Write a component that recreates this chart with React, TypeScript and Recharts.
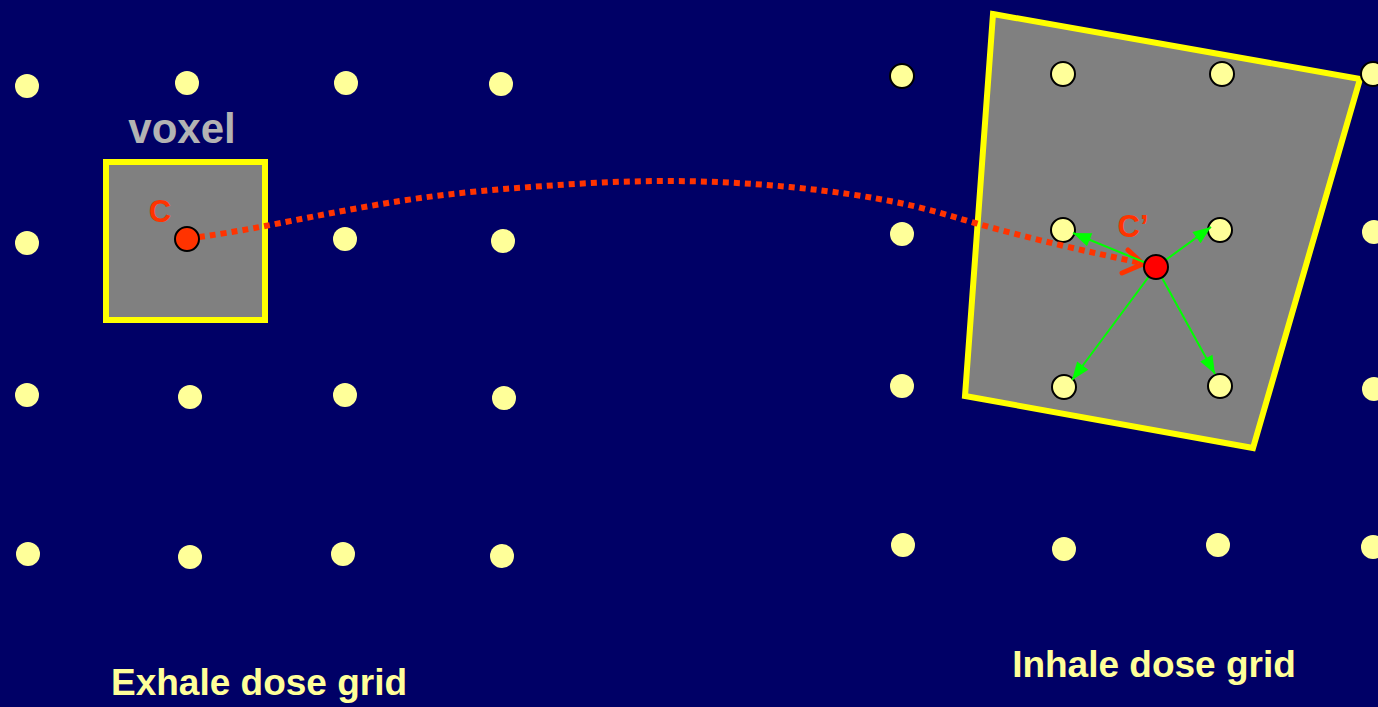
import React from 'react';
import { ComposedChart, Scatter, XAxis, YAxis, ReferenceArea } from 'recharts';

const W = 1378;
const H = 707;

// grid points (pixel space, y down)
const exhaleDots = [
  { x: 27, y: 86 }, { x: 187, y: 83 }, { x: 346, y: 83 }, { x: 501, y: 84 },
  { x: 27, y: 243 }, { x: 345, y: 239 }, { x: 503, y: 241 },
  { x: 27, y: 395 }, { x: 190, y: 397 }, { x: 345, y: 395 }, { x: 504, y: 398 },
  { x: 28, y: 554 }, { x: 190, y: 557 }, { x: 343, y: 554 }, { x: 502, y: 556 },
];

const inhaleDots = [
  { x: 902, y: 234 }, { x: 902, y: 386 }, { x: 903, y: 545 }, { x: 1064, y: 549 },
  { x: 1218, y: 545 }, { x: 1373, y: 547 }, { x: 1374, y: 232 }, { x: 1374, y: 389 },
];

const outlinedDots = [
  { x: 902, y: 76 }, { x: 1063, y: 74 }, { x: 1222, y: 74 }, { x: 1373, y: 74 },
  { x: 1063, y: 230 }, { x: 1220, y: 230 }, { x: 1064, y: 387 }, { x: 1220, y: 386 },
];

const pointC = [{ x: 187, y: 239 }];
const pointCPrime = [{ x: 1156, y: 267 }];

const voxelBox = { x1: 106, x2: 265, y1: 162, y2: 320 };

// last vertex repeated past the start so the closing corner gets a proper miter
const warpedVoxel = [
  { x: 993, y: 14 }, { x: 1360, y: 79 }, { x: 1253, y: 448 }, { x: 965, y: 396 },
  { x: 993, y: 14 }, { x: 1360, y: 79 },
];

const motionPath = [
  { x: 199, y: 237 }, { x: 265, y: 226 }, { x: 400, y: 201 }, { x: 530, y: 187 },
  { x: 660, y: 181 }, { x: 790, y: 187 }, { x: 900, y: 203 }, { x: 975, y: 223 },
  { x: 1060, y: 245 }, { x: 1141, y: 263 },
];

const motionHead = [{ x: 1128, y: 250 }, { x: 1143, y: 264 }, { x: 1122, y: 273 }];

const arrowTips = [
  { x: 1073, y: 233 }, { x: 1211, y: 227 }, { x: 1072, y: 380 }, { x: 1215, y: 374 },
];

const labels = [
  { x: 182, y: 143, text: 'voxel', kind: 'voxel' },
  { x: 160, y: 222, text: 'C', kind: 'c' },
  { x: 1133, y: 237, text: 'C\u2019', kind: 'c' },
  { x: 259, y: 695, text: 'Exhale dose grid', kind: 'title' },
  { x: 1154, y: 677, text: 'Inhale dose grid', kind: 'title' },
];

const labelStyle: Record<string, { size: number; fill: string }> = {
  voxel: { size: 42, fill: '#b3b3b3' },
  c: { size: 31, fill: '#ff3300' },
  title: { size: 37, fill: '#ffff99' },
};

const Hidden = () => <g />;

const dot = (fill: string, stroke?: string) => (p: any) => (
  <circle cx={p.cx} cy={p.cy} r={12} fill={fill} stroke={stroke || 'none'} strokeWidth={stroke ? 2 : 0} />
);

const arrowHead = (p: any) => {
  const from = p.payload.from;
  const ang = Math.atan2(p.payload.y - from.y, p.payload.x - from.x);
  const len = 18;
  const half = 7;
  const bx = p.cx - len * Math.cos(ang);
  const by = p.cy - len * Math.sin(ang);
  const nx = -Math.sin(ang) * half;
  const ny = Math.cos(ang) * half;
  return (
    <polygon
      points={`${p.cx},${p.cy} ${bx + nx},${by + ny} ${bx - nx},${by - ny}`}
      fill="#00ff00"
    />
  );
};

const labelShape = (p: any) => {
  const s = labelStyle[p.payload.kind];
  return (
    <text
      x={p.cx}
      y={p.cy}
      textAnchor="middle"
      fontFamily="'Liberation Sans', Arial, sans-serif"
      fontWeight="bold"
      fontSize={s.size}
      fill={s.fill}
    >
      {p.payload.text}
    </text>
  );
};

export default function App() {
  const center = pointCPrime[0];
  return (
    <div style={{ position: 'absolute', left: 0, top: 0, width: W, height: H, background: '#000066' }}>
      <ComposedChart width={W} height={H} margin={{ top: 0, right: 0, bottom: 0, left: 0 }}>
        <XAxis type="number" dataKey="x" domain={[0, W]} hide allowDataOverflow />
        <YAxis type="number" dataKey="y" domain={[0, H]} reversed hide allowDataOverflow />

        <ReferenceArea
          x1={voxelBox.x1}
          x2={voxelBox.x2}
          y1={voxelBox.y1}
          y2={voxelBox.y2}
          fill="#808080"
          fillOpacity={1}
          stroke="#ffff00"
          strokeWidth={6}
          ifOverflow="visible"
        />

        <Scatter
          data={warpedVoxel}
          line={{ stroke: '#ffff00', strokeWidth: 6, fill: '#808080', strokeLinejoin: 'miter' }}
          lineType="joint"
          lineJointType="linear"
          shape={Hidden}
          isAnimationActive={false}
        />

        <Scatter data={exhaleDots} shape={dot('#ffff99')} isAnimationActive={false} />
        <Scatter data={inhaleDots} shape={dot('#ffff99')} isAnimationActive={false} />
        <Scatter data={outlinedDots} shape={dot('#ffff99', '#000000')} isAnimationActive={false} />

        <Scatter
          data={motionPath}
          line={{ stroke: '#ff3300', strokeWidth: 6, strokeDasharray: '6 5' }}
          lineType="joint"
          lineJointType="natural"
          shape={Hidden}
          isAnimationActive={false}
        />
        <Scatter
          data={motionHead}
          line={{ stroke: '#ff3300', strokeWidth: 5, strokeLinecap: 'round', strokeLinejoin: 'round' }}
          lineType="joint"
          shape={Hidden}
          isAnimationActive={false}
        />

        {arrowTips.map((t, i) => (
          <Scatter
            key={`arrow-${i}`}
            data={[
              { x: center.x, y: center.y, from: center, tip: false },
              { x: t.x, y: t.y, from: center, tip: true },
            ]}
            line={{ stroke: '#00ff00', strokeWidth: 2 }}
            lineType="joint"
            shape={(p: any) => (p.payload.tip ? arrowHead(p) : <g />)}
            isAnimationActive={false}
          />
        ))}

        <Scatter data={pointC} shape={dot('#ff3300', '#000000')} isAnimationActive={false} />
        <Scatter data={pointCPrime} shape={dot('#ff0000', '#000000')} isAnimationActive={false} />

        <Scatter data={labels} shape={labelShape} isAnimationActive={false} />
      </ComposedChart>
    </div>
  );
}
